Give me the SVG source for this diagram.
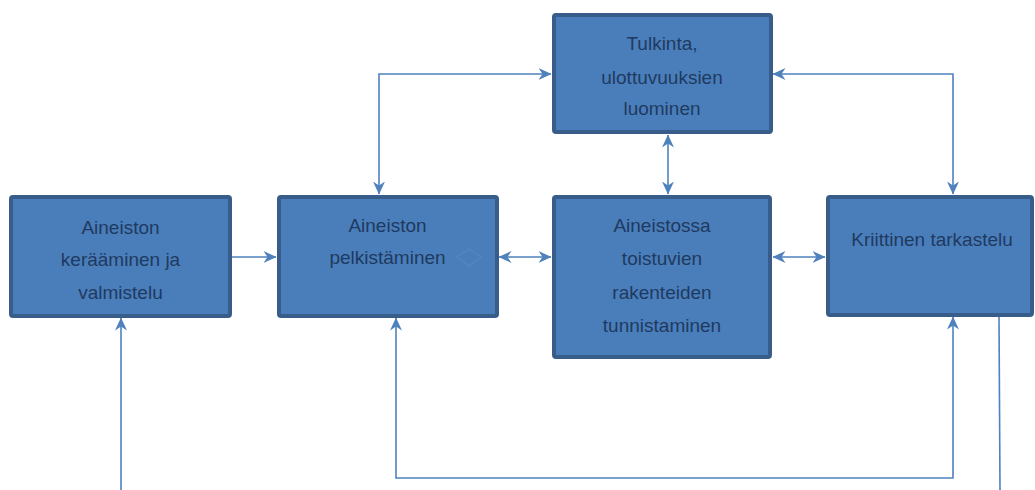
<svg xmlns="http://www.w3.org/2000/svg" width="1035" height="490" viewBox="0 0 1035 490">
<style>
.box{fill:#4a7ebb;stroke:#385d8a;stroke-width:4}
.lbl{font-family:"Liberation Sans",Arial,sans-serif;font-size:19px;fill:#1f3a60;text-anchor:middle;dominant-baseline:central}
.con{fill:none;stroke:#4f81bd;stroke-width:1.6}
</style>
<defs>
<marker id="ah" viewBox="0 0 13 13" refX="12.5" refY="6.5" markerWidth="13" markerHeight="13" markerUnits="userSpaceOnUse" orient="auto-start-reverse">
<path d="M0,0.5 L13,6.5 L0,12.5 L4,6.5 Z" fill="#4f81bd"/>
</marker>
</defs>
<rect width="1035" height="490" fill="#ffffff"/>
<g id="connectors">
<line class="con" x1="231" y1="257" x2="276" y2="257" marker-end="url(#ah)"/>
<line class="con" x1="499" y1="257" x2="551" y2="257" marker-start="url(#ah)" marker-end="url(#ah)"/>
<line class="con" x1="773" y1="257" x2="825" y2="257" marker-start="url(#ah)" marker-end="url(#ah)"/>
<polyline class="con" points="379,194 379,74 551,74" marker-start="url(#ah)" marker-end="url(#ah)"/>
<polyline class="con" points="773,74 953,74 953,194" marker-start="url(#ah)" marker-end="url(#ah)"/>
<line class="con" x1="668" y1="135" x2="668" y2="194" marker-start="url(#ah)" marker-end="url(#ah)"/>
<line class="con" x1="121" y1="490" x2="121" y2="318" marker-end="url(#ah)"/>
<polyline class="con" points="396,318 396,478 953,478 953,317" marker-start="url(#ah)" marker-end="url(#ah)"/>
<line class="con" x1="999" y1="317" x2="1000" y2="490"/>
</g>
<g id="n1">
<rect class="box" x="11" y="197" width="219" height="119" rx="2"/>
<text class="lbl" x="120.5" y="227">Aineiston</text>
<text class="lbl" x="120.5" y="259">kerääminen ja</text>
<text class="lbl" x="120.5" y="292">valmistelu</text>
</g>
<g id="n2">
<rect class="box" x="279" y="197" width="218" height="119" rx="2"/>
<text class="lbl" x="387.5" y="225">Aineiston</text>
<text class="lbl" x="387.5" y="257">pelkistäminen</text>
<path d="M457,257 L469,249 L481,257 L469,266 Z" fill="none" stroke="#5b8cc6" stroke-width="1.2" opacity="0.6"/>
</g>
<g id="n3">
<rect class="box" x="554" y="197" width="216" height="160" rx="2"/>
<text class="lbl" x="662" y="225">Aineistossa</text>
<text class="lbl" x="662" y="258">toistuvien</text>
<text class="lbl" x="662" y="292">rakenteiden</text>
<text class="lbl" x="662" y="325">tunnistaminen</text>
</g>
<g id="n4">
<rect class="box" x="828" y="197" width="204" height="118" rx="2"/>
<text class="lbl" x="932" y="239">Kriittinen tarkastelu</text>
</g>
<g id="n5">
<rect class="box" x="554" y="15" width="217" height="117" rx="2"/>
<text class="lbl" x="662" y="43">Tulkinta,</text>
<text class="lbl" x="662" y="77">ulottuvuuksien</text>
<text class="lbl" x="662" y="108">luominen</text>
</g>
</svg>
